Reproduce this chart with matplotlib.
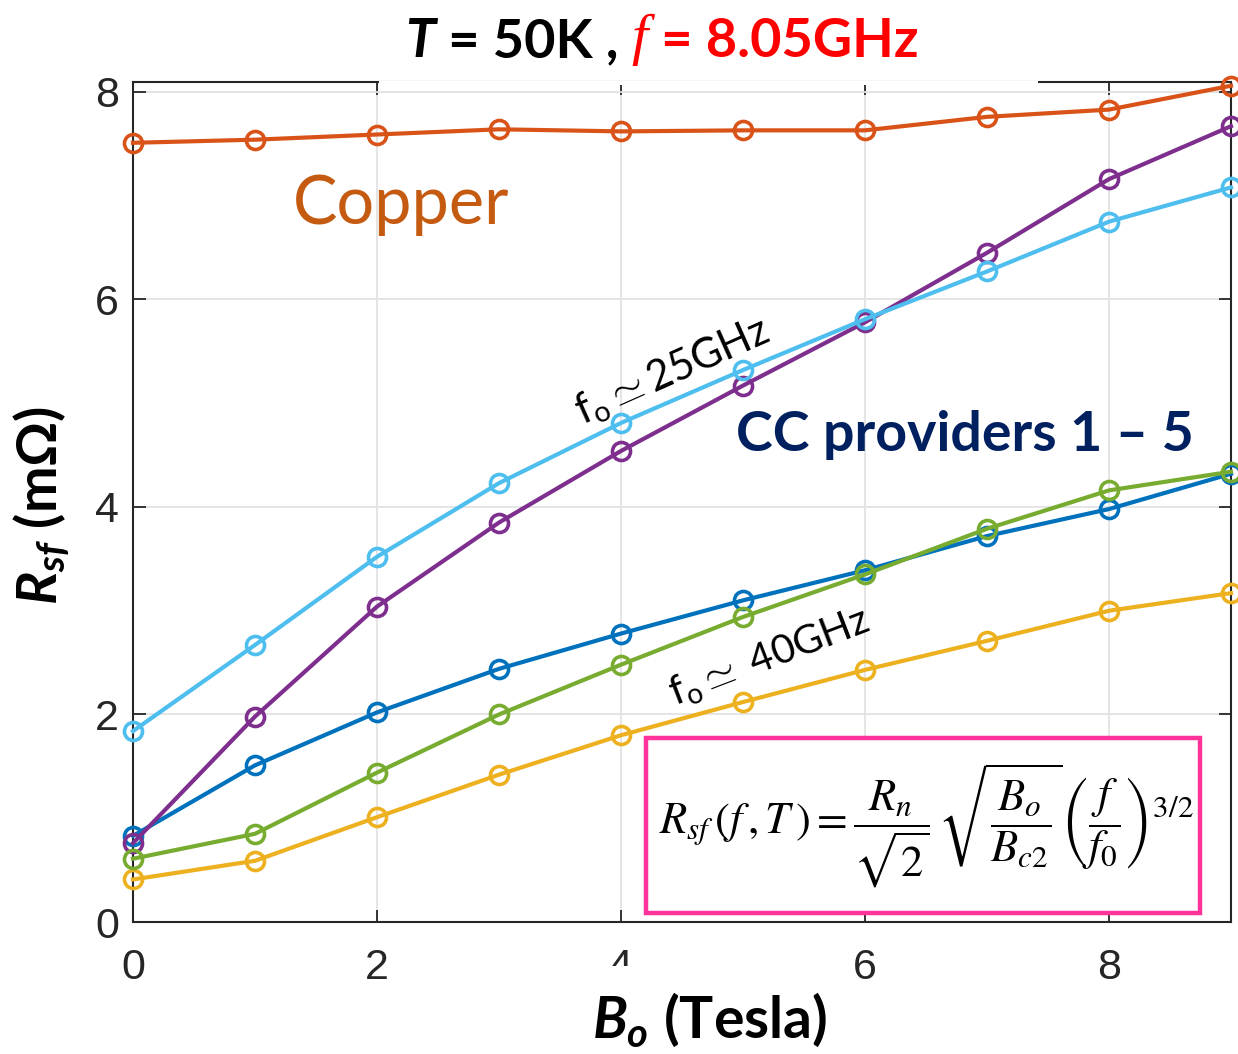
import matplotlib.pyplot as plt
from matplotlib.patches import Rectangle

# field B_o (Tesla)
field = [0, 1, 2, 3, 4, 5, 6, 7, 8, 9]

# surface resistance R_sf (mOhm)
copper = [7.51, 7.54, 7.59, 7.64, 7.62, 7.63, 7.63, 7.76, 7.83, 8.06]
cc_blue = [0.83, 1.51, 2.02, 2.44, 2.78, 3.10, 3.39, 3.72, 3.98, 4.32]
cc_yellow = [0.41, 0.59, 1.01, 1.42, 1.80, 2.12, 2.43, 2.71, 3.00, 3.17]
cc_purple = [0.76, 1.98, 3.04, 3.85, 4.54, 5.17, 5.78, 6.45, 7.16, 7.67]
cc_green = [0.61, 0.85, 1.44, 2.00, 2.48, 2.94, 3.35, 3.79, 4.16, 4.34]
cc_lightblue = [1.84, 2.67, 3.52, 4.23, 4.81, 5.32, 5.81, 6.27, 6.75, 7.08]

xticks = [0, 2, 4, 6, 8]
yticks = [0, 2, 4, 6, 8]

plt.rcParams['mathtext.fontset'] = 'custom'
plt.rcParams['mathtext.it'] = 'Lato:bold:italic'
plt.rcParams['mathtext.rm'] = 'Lato:bold'
plt.rcParams['mathtext.bf'] = 'Lato:bold'

W, H = 1238, 1054
fig = plt.figure(figsize=(W / 100, H / 100), dpi=100)
ax = fig.add_axes([133 / W, (H - 922) / H, 1098 / W, 840 / H])

series = [
    (cc_blue, '#0072BD'),
    (copper, '#D95319'),
    (cc_yellow, '#EDB120'),
    (cc_purple, '#7E2F8E'),
    (cc_green, '#77AC30'),
    (cc_lightblue, '#4DBEEE'),
]
for vals, col in series:
    ax.plot(field, vals, '-o', color=col, lw=3, ms=13, mew=2.6,
            mfc='none', clip_on=False, zorder=3)

ax.set_xlim(0, 9)
ax.set_ylim(0, 8.096)
ax.set_xticks(xticks)
ax.set_yticks(yticks)
ax.grid(True, color='#e3e3e3', lw=1.3)
ax.set_axisbelow(True)
for s in ax.spines.values():
    s.set_color('#262626')
    s.set_linewidth(1.5)
ax.tick_params(direction='in', length=9, width=1.3, top=True, right=True,
               colors='#262626', labelsize=31)
ax.tick_params(axis='x', pad=19)
ax.tick_params(axis='y', pad=10)
for lab in ax.get_xticklabels() + ax.get_yticklabels():
    lab.set_fontfamily('Liberation Sans')

# in-plot annotations
ax.text(2.20, 6.91, 'Copper', color='#C55A11', fontsize=48,
        family=['Lato', 'DejaVu Sans'], ha='center', va='center')
ax.text(6.82, 4.69, 'CC providers 1 – 5', color='#002060', fontsize=40,
        family=['Lato', 'DejaVu Sans'], weight='bold', ha='center', va='center')
ax.text(4.42, 5.30, r'f$_\mathregular{o}$$\simeq$25GHz', fontsize=30,
        family='Lato', rotation=24, ha='center', va='center')
ax.text(5.22, 2.55, r'f$_\mathregular{o}$$\simeq$ 40GHz', fontsize=29,
        family='Lato', rotation=21, ha='center', va='center')

# formula box
fig.patches.append(Rectangle((646 / W, (H - 913) / H), 554 / W, 175 / H,
                             transform=fig.transFigure, facecolor='white',
                             edgecolor='#FF3399', lw=3.2, zorder=4))
fig.text(926 / W, (H - 826) / H,
         r'$R_{sf}\,(f\,,T\,) = \dfrac{R_n}{\sqrt{2}}\,\sqrt{\dfrac{B_o}{B_{c2}}}'
         r'\left(\dfrac{f}{f_0}\right)^{3/2}$',
         math_fontfamily='stix', fontsize=32, ha='center', va='center', zorder=5)

# white patches like in the source slide
fig.patches.append(Rectangle((379 / W, (H - 85) / H), 659 / W, 4 / H,
                             transform=fig.transFigure, facecolor='white',
                             edgecolor='none', zorder=1))
fig.patches.append(Rectangle((585 / W, 0), 250 / W, (H - 966) / H,
                             transform=fig.transFigure, facecolor='white',
                             edgecolor='none', zorder=1))

# axis labels
fig.text(710 / W, (H - 1038) / H, r'$B_o$ (Tesla)', fontsize=41,
         family=['Lato', 'DejaVu Sans'], weight='bold', ha='center',
         va='baseline', zorder=2)
fig.text(42 / W, (H - 505) / H, r'$R_{sf}$ (mΩ)', fontsize=40,
         family=['Lato', 'DejaVu Sans'], weight='bold', rotation=90,
         ha='center', va='center', zorder=2)

# title
t1 = fig.text(405 / W, (H - 57) / H, 'T', fontsize=39, weight='bold',
              style='italic', family='Lato', va='baseline')
t2 = ax.annotate(' = 50K , ', xy=(1, 0), xycoords=t1, fontsize=39,
                 weight='bold', family='Lato', va='bottom', annotation_clip=False)
t3 = ax.annotate('f', xy=(1, 0), xycoords=t2, fontsize=42, style='italic',
                 family='Liberation Serif', color='red', va='bottom',
                 annotation_clip=False)
ax.annotate(' = 8.05GHz', xy=(1, 0), xycoords=t3, fontsize=39, weight='bold',
            family='Lato', color='red', va='bottom', annotation_clip=False)

fig.savefig('out.png', dpi=100)
